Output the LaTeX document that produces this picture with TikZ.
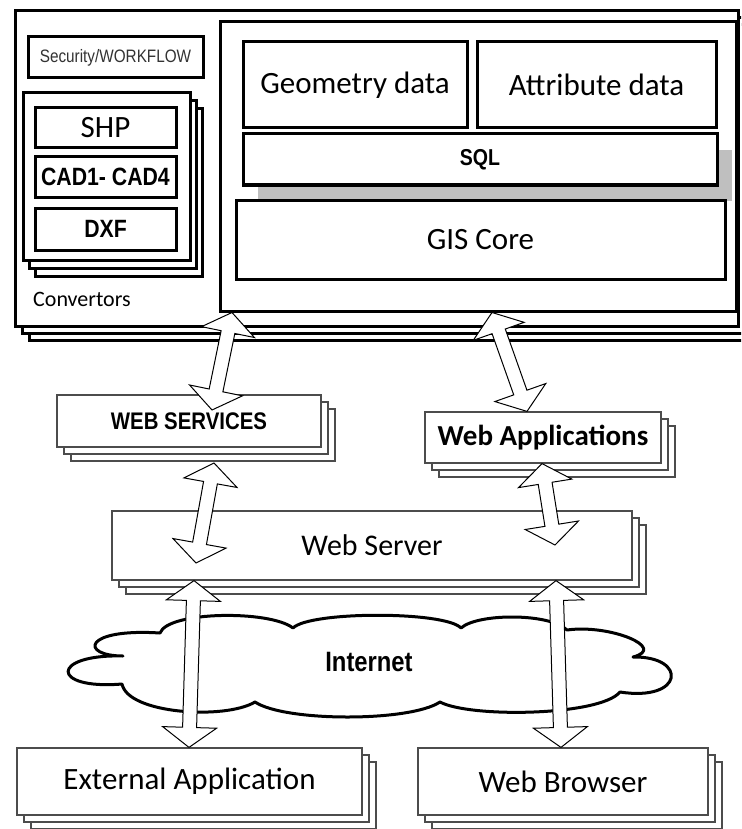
\documentclass[tikz,border=0pt]{standalone}
\usepackage{fontspec}
\setmainfont{Carlito}
\newfontfamily\arialn[FakeStretch=0.85]{Liberation Sans}
\usetikzlibrary{calc,shadows}

\tikzset{
  thickbox/.style={draw=black, line width=3pt, fill=white, inner sep=0pt},
  thinbox/.style={draw=black!70, line width=1.2pt, fill=white, inner sep=0pt},
  stack/.style={double copy shadow={shadow xshift=#1pt, shadow yshift=-#1pt}},
  cal/.style={font=\fontsize{#1}{#1}\selectfont},
  arn/.style={font=\arialn\bfseries\fontsize{#1}{#1}\selectfont},
  arrowline/.style={draw=black, line width=1pt, fill=white, line join=miter},
  cloudline/.style={draw=black, line width=3pt, fill=white, line join=round},
}

\newcommand{\hollowarrow}[2]{%
  \coordinate (ha) at ($(#1)!20pt!(#2)$);
  \coordinate (hb) at ($(#2)!20pt!(#1)$);
  \draw[arrowline] (#1) -- ($(ha)!27pt!90:(#2)$) -- ($(ha)!7pt!90:(#2)$)
    -- ($(hb)!7pt!-90:(#1)$) -- ($(hb)!27pt!-90:(#1)$) -- (#2)
    -- ($(hb)!27pt!90:(#1)$) -- ($(hb)!7pt!90:(#1)$)
    -- ($(ha)!7pt!-90:(#2)$) -- ($(ha)!27pt!-90:(#2)$) -- cycle;
}

\begin{document}
\begin{tikzpicture}[x=1pt,y=-1pt]
\useasboundingbox (0,0) rectangle (741,829);
\clip (0,0) rectangle (741,829);

% ---------- upper system block ----------
\node[thickbox, stack=7, minimum width=723pt, minimum height=315pt] (outer) at (376.5,168.5) {};
\node[thickbox, minimum width=516pt, minimum height=289pt] (inner) at (478,166.5) {};

\node[thickbox, minimum width=175pt, minimum height=41pt,
      font=\arialn\fontsize{18}{18}\selectfont, text=black!80] (sec) at (115.5,57.5) {Security/WORKFLOW};

\node[thickbox, double copy shadow={shadow xshift=6pt, shadow yshift=-8pt},
      minimum width=167pt, minimum height=167pt] (conv) at (106.5,176.5) {};
\node[thickbox, minimum width=141pt, minimum height=40pt, cal=31] (shp) at (105.5,128) {SHP};
\node[thickbox, minimum width=141pt, minimum height=40pt, arn=25] (cad) at (105.5,177) {CAD1- CAD4};
\node[thickbox, minimum width=141pt, minimum height=42pt, arn=25] (dxf) at (105.5,229) {DXF};
\node[anchor=west, inner sep=0pt, cal=22] (convlbl) at (33,299) {Convertors};

\node[thickbox, minimum width=224pt, minimum height=86pt, cal=31] (geo) at (355,85) {Geometry data};
\node[thickbox, minimum width=239pt, minimum height=86pt, cal=31] (attr) at (596.5,85) {Attribute data};
\node[thickbox, minimum width=474pt, minimum height=51pt, arn=23,
      drop shadow={shadow xshift=15pt, shadow yshift=-16pt, fill=black!25, opacity=1}] (sql) at (480,159.5) {SQL};
\node[thickbox, minimum width=489pt, minimum height=79pt, cal=31] (gis) at (480.5,239.5) {GIS Core};

% ---------- lower part ----------
\node[thinbox, stack=7, minimum width=264pt, minimum height=52pt, arn=24] (ws) at (189,421) {WEB SERVICES};
\node[thinbox, stack=7, minimum width=236pt, minimum height=51pt, font=\bfseries\fontsize{29}{29}\selectfont] (wa) at (543,437.5) {Web Applications};
\node[thinbox, stack=7, minimum width=520pt, minimum height=69pt, cal=30] (srv) at (372,545.5) {Web Server};

% cloud outline
\draw[cloudline] (123,656)
  .. controls (80,656) and (82,628) .. (160,633)
  .. controls (168,611) and (270,610) .. (293,628)
  .. controls (310,611) and (445,611) .. (461,628)
  .. controls (478,613) and (550,613) .. (567,630)
  .. controls (610,624) and (668,648) .. (633,657)
  .. controls (688,656) and (684,702) .. (620,692)
  .. controls (600,716) and (470,718) .. (440,702)
  .. controls (410,722) and (285,722) .. (255,702)
  .. controls (225,720) and (128,714) .. (122,684)
  .. controls (50,690) and (50,654) .. cycle;
\node[inner sep=0pt, arn=28] (net) at (369,662) {Internet};

\node[thinbox, stack=7, minimum width=345pt, minimum height=67pt, cal=31] (ext) at (189.5,781.5) {External Application};
\node[thinbox, stack=7, minimum width=290pt, minimum height=67pt, cal=31] (wb) at (563,781.5) {Web Browser};

% ---------- arrow end points ----------
\coordinate (a1t) at (232,0 |- inner.south);
\coordinate (a1b) at (212,410);
\coordinate (a2t) at (492,0 |- inner.south);
\coordinate (a2b) at (527,0 |- wa.north);
\coordinate (a3t) at (214,463);
\coordinate (a3b) at (196,563);
\coordinate (a4t) at (542,0 |- wa.south);
\coordinate (a4b) at (555,545);
\coordinate (a5t) at (194,0 |- srv.south);
\coordinate (a5b) at (189,0 |- ext.north);
\coordinate (a6t) at (556,0 |- srv.south);
\coordinate (a6b) at (561,0 |- wb.north);

\hollowarrow{a1t}{a1b}
\hollowarrow{a2t}{a2b}
\hollowarrow{a3t}{a3b}
\hollowarrow{a4t}{a4b}
\hollowarrow{a5t}{a5b}
\hollowarrow{a6t}{a6b}
\end{tikzpicture}
\end{document}
